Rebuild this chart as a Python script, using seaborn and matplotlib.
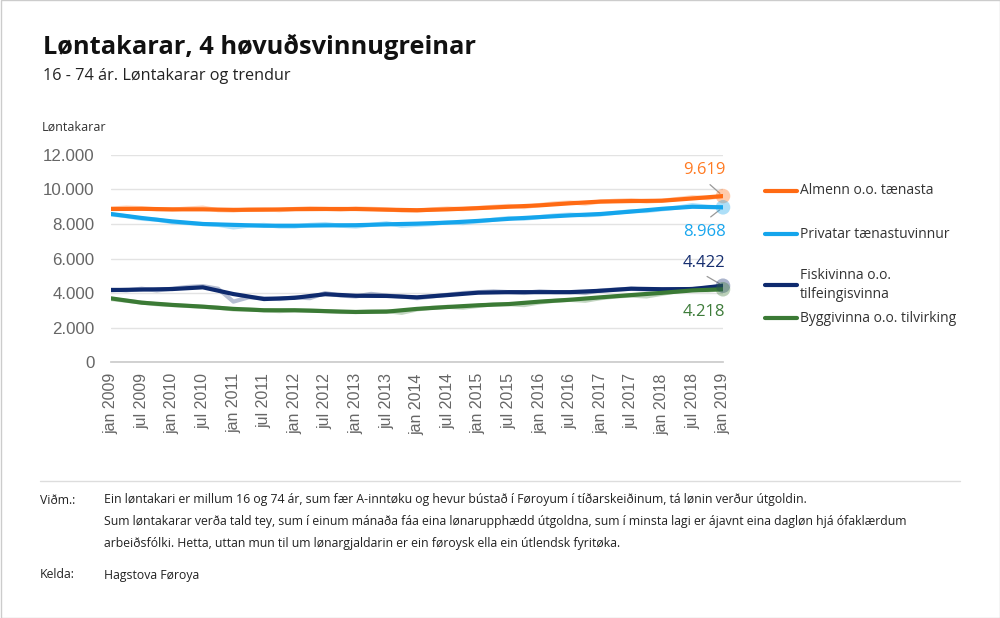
import numpy as np
import pandas as pd
import seaborn as sns
import matplotlib
matplotlib.use("Agg")
import matplotlib.pyplot as plt
from matplotlib.lines import Line2D
from matplotlib.patches import Rectangle

# ---------------- data ----------------
series_names = ["Almenn o.o. tænasta", "Privatar tænastuvinnur",
                "Fiskivinna o.o. tilfeingisvinna", "Byggivinna o.o. tilvirking"]
legend_labels = ["Almenn o.o. tænasta", "Privatar tænastuvinnur",
                 "Fiskivinna o.o.\ntilfeingisvinna", "Byggivinna o.o. tilvirking"]
colors = ["#ff6a13", "#14a5ec", "#0e2a6e", "#3b7a35"]
label_colors = ["#ff7a22", "#18a6ee", "#172f70", "#3e7c3a"]

tick_labels = []
for yr in range(2009, 2019):
    tick_labels += [f"jan {yr}", f"jul {yr}"]
tick_labels.append("jan 2019")

# trend values, every 6 months (jan 2009 ... jan 2019)
trend_almenn = [8870, 8880, 8850, 8850, 8820, 8830, 8860, 8870, 8870, 8830, 8800,
                8850, 8920, 9000, 9080, 9200, 9300, 9330, 9350, 9480, 9619]
trend_privatar = [8580, 8350, 8150, 8000, 7950, 7900, 7900, 7920, 7930, 7980, 8020,
                  8080, 8180, 8300, 8400, 8500, 8580, 8720, 8880, 9000, 8968]
trend_fiski = [4170, 4200, 4230, 4330, 3940, 3650, 3720, 3930, 3840, 3830, 3750,
               3880, 4020, 4050, 4050, 4050, 4130, 4250, 4220, 4230, 4422]
trend_byggi = [3690, 3440, 3310, 3210, 3080, 3000, 3000, 2950, 2900, 2920, 3080,
               3190, 3290, 3360, 3500, 3610, 3750, 3880, 4010, 4150, 4218]

# raw numbers, every 3 months (jan 2009 ... jan 2019)
raw_almenn = [8900, 8950, 8920, 8850, 8830, 8900, 8950, 8800, 8780, 8850, 8860, 8800,
              8870, 8920, 8880, 8830, 8900, 8880, 8850, 8780, 8770, 8850, 8900, 8860,
              8930, 9000, 9050, 8980, 9100, 9200, 9250, 9180, 9300, 9350, 9380, 9300,
              9350, 9450, 9550, 9500, 9619]
raw_privatar = [8550, 8450, 8300, 8250, 8100, 8050, 8000, 7950, 7800, 7900, 7950, 7850,
                7850, 7950, 8000, 7900, 7850, 7950, 8050, 7900, 7950, 8000, 8100, 8050,
                8150, 8250, 8350, 8300, 8400, 8500, 8550, 8500, 8550, 8650, 8750, 8750,
                8850, 8950, 9100, 9000, 8968]
raw_fiski = [4200, 4150, 4250, 4150, 4250, 4350, 4400, 4250, 3500, 3750, 3700, 3650,
             3750, 3700, 4000, 3850, 3800, 3950, 3850, 3800, 3700, 3800, 3900, 4000,
             4050, 4100, 4050, 4000, 4100, 4050, 4050, 4000, 4150, 4200, 4250, 4200,
             4200, 4150, 4250, 4300, 4422]
raw_byggi = [3650, 3550, 3450, 3350, 3300, 3250, 3200, 3150, 3050, 3050, 3000, 2950,
             3000, 3000, 2950, 2900, 2900, 2950, 2950, 2850, 3050, 3150, 3200, 3150,
             3250, 3350, 3350, 3300, 3450, 3550, 3600, 3550, 3700, 3800, 3850, 3800,
             3950, 4100, 4200, 4150, 4218]

trend_all = [trend_almenn, trend_privatar, trend_fiski, trend_byggi]
raw_all = [raw_almenn, raw_privatar, raw_fiski, raw_byggi]

trend_months = np.arange(0, 121, 6)
raw_months = np.arange(0, 121, 3)

trend_df = pd.concat([pd.DataFrame({"month": trend_months, "value": v, "series": n})
                      for n, v in zip(series_names, trend_all)], ignore_index=True)
raw_df = pd.concat([pd.DataFrame({"month": raw_months, "value": v, "series": n})
                    for n, v in zip(series_names, raw_all)], ignore_index=True)

# ---------------- style ----------------
sns.set_theme(style="white")
plt.rcParams["font.family"] = ["Open Sans", "DejaVu Sans"]

fig = plt.figure(figsize=(10, 6.18), dpi=100)
ax = fig.add_axes([0.111, 0.4142, 0.612, 0.335])

palette = dict(zip(series_names, colors))
sns.lineplot(data=raw_df, x="month", y="value", hue="series", palette=palette,
             legend=False, ax=ax, linewidth=3, alpha=0.3)
sns.lineplot(data=trend_df, x="month", y="value", hue="series", palette=palette,
             legend=False, ax=ax, linewidth=3)

ax.set_xlim(0, 120)
ax.set_ylim(0, 12000)
ax.set_yticks(np.arange(0, 12001, 2000))
ax.set_yticklabels([f"{v:,}".replace(",", ".") for v in range(0, 12001, 2000)],
                   family="Liberation Sans", fontsize=12.2, color="#666666")
ax.set_xticks(trend_months)
ax.set_xticklabels(tick_labels, rotation=90, family="Liberation Sans",
                   fontsize=11.5, color="#666666")
ax.tick_params(axis="y", length=0, pad=12)
ax.tick_params(axis="x", length=5, width=1, color="#cccccc", pad=3, direction="out")
ax.grid(axis="y", color="#e3e3e3", linewidth=1)
ax.grid(axis="x", visible=False)
for s in ["left", "right", "top"]:
    ax.spines[s].set_visible(False)
ax.spines["bottom"].set_color("#cccccc")
ax.set_xlabel("")
ax.set_ylabel("")

# end markers and labels
offsets = [(-13.5, 19.0), (-13.5, -17.5), (-13.5, 16.3), (-13.5, -16.4)]
relpos = [(0.45, 0.0), (0.45, 1.0), (0.35, 0.0), (0.5, 1.0)]
shrinkA = [4, 4, 3, 0]
show_leader = [True, True, True, False]
for vals, col, lcol, off, rp, sa, sl in zip(trend_all, colors, label_colors, offsets,
                                            relpos, shrinkA, show_leader):
    last = vals[-1]
    ax.scatter([120], [last], s=110, color=col, alpha=0.35, edgecolor="none",
               clip_on=False, zorder=5)
    props = dict(arrowstyle="-", color="#999999", lw=0.9, shrinkA=sa, shrinkB=3,
                 relpos=rp) if sl else None
    ax.annotate(f"{last:,}".replace(",", "."), xy=(120, last), xytext=off,
                textcoords="offset points", ha="center", va="center",
                fontsize=12, color=lcol, arrowprops=props)

# legend (manual)
leg_y = [191, 234, 285, 318]
for lab, col, yy in zip(legend_labels, colors, leg_y):
    yf = 1 - yy / 618
    fig.add_artist(Line2D([0.765, 0.797], [yf, yf], color=col, lw=3,
                          transform=fig.transFigure))
    fig.text(0.800, yf, lab, ha="left", va="center", fontsize=10,
             color="#333333", linespacing=1.45)

# titles
fig.text(0.043, 1 - 47 / 618, "Løntakarar, 4 høvuðsvinnugreinar", fontsize=18.3,
         fontweight="bold", color="#111111", va="center", ha="left")
fig.text(0.043, 1 - 76 / 618, "16 - 74 ár. Løntakarar og trendur", fontsize=11.7,
         color="#222222", va="center", ha="left")
fig.text(0.042, 1 - 127 / 618, "Løntakarar", fontsize=9, color="#333333",
         va="center", ha="left")

# separator and footer
fig.add_artist(Line2D([0.040, 0.960], [1 - 481 / 618, 1 - 481 / 618], color="#dddddd",
                      lw=1, transform=fig.transFigure))
foot_fs = 8.85
fig.text(0.040, 1 - 500 / 618, "Viðm.:", fontsize=foot_fs, color="#222222", va="center")
fig.text(0.104, 1 - 500 / 618,
         "Ein løntakari er millum 16 og 74 ár, sum fær A-inntøku og hevur bústað í Føroyum í tíðarskeiðinum, tá lønin verður útgoldin.",
         fontsize=foot_fs, color="#222222", va="center")
fig.text(0.104, 1 - 522 / 618,
         "Sum løntakarar verða tald tey, sum í einum mánaða fáa eina lønarupphædd útgoldna, sum í minsta lagi er ájavnt eina dagløn hjá ófaklærdum",
         fontsize=foot_fs, color="#222222", va="center")
fig.text(0.104, 1 - 543 / 618,
         "arbeiðsfólki. Hetta, uttan mun til um lønargjaldarin er ein føroysk ella ein útlendsk fyritøka.",
         fontsize=foot_fs, color="#222222", va="center")
fig.text(0.040, 1 - 575 / 618, "Kelda:", fontsize=foot_fs, color="#222222", va="center")
fig.text(0.104, 1 - 575 / 618, "Hagstova Føroya", fontsize=foot_fs, color="#222222",
         va="center")

# border
fig.add_artist(Rectangle((0.0005, 0.0008), 0.999, 0.9984, fill=False,
                         edgecolor="#cccccc", lw=1, transform=fig.transFigure))

fig.savefig("out.png", dpi=100, facecolor="white")
